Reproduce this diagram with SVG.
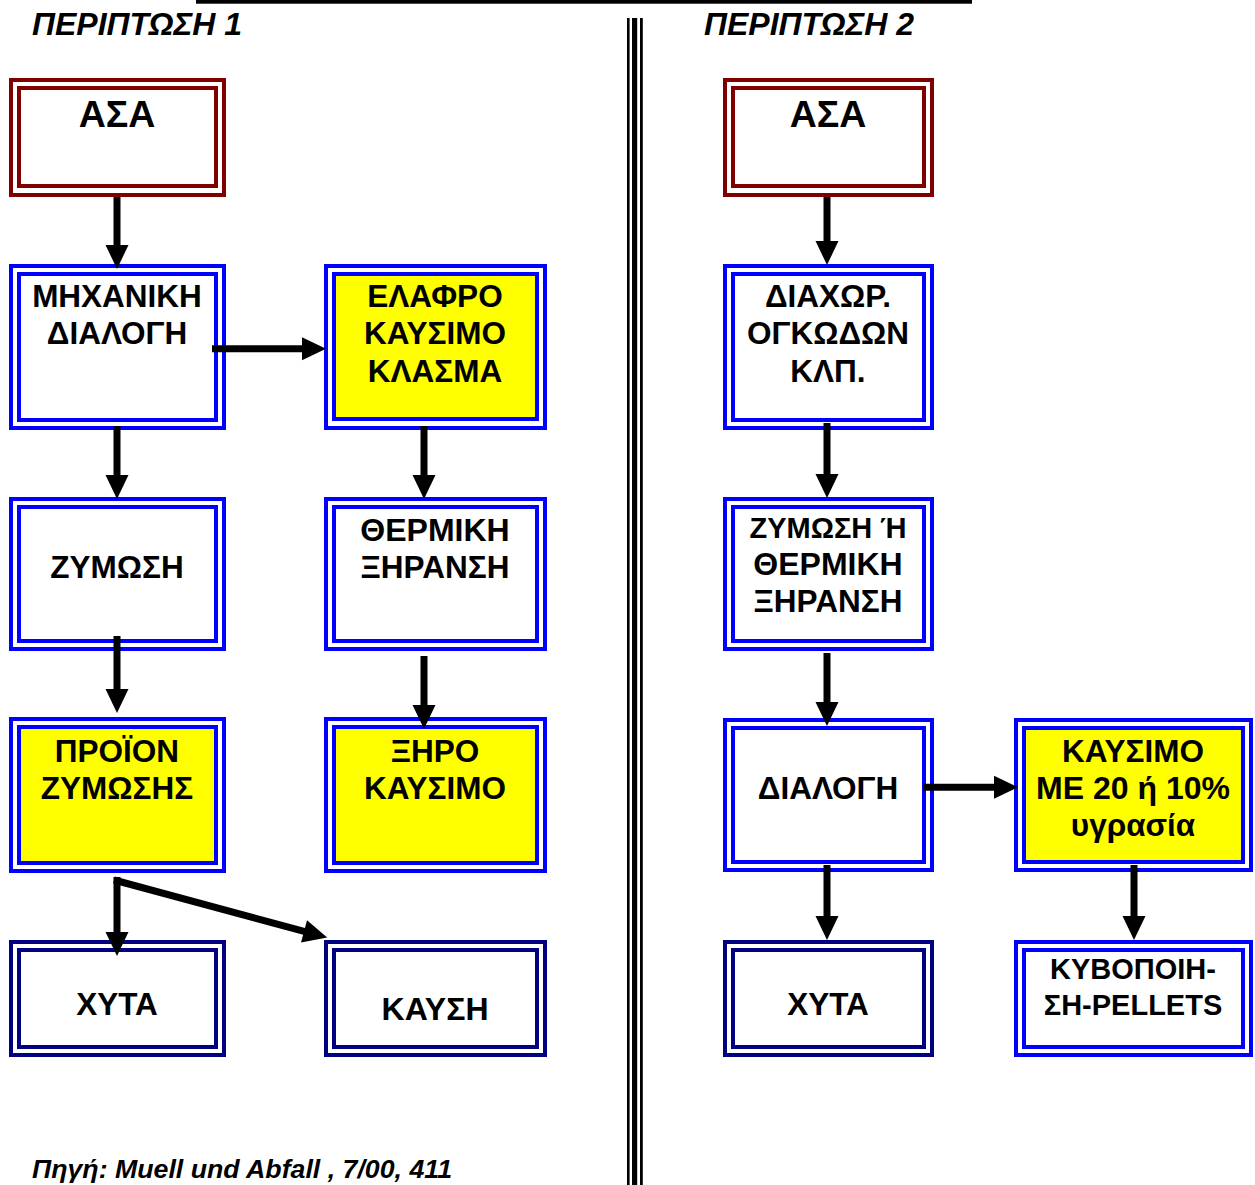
<svg xmlns="http://www.w3.org/2000/svg" width="1255" height="1185" viewBox="0 0 1255 1185">
<style>
.o{fill:none;stroke-width:4}
.i{fill:#fff;stroke-width:4}
.y{fill:#ffff00}
.r{stroke:#800000}
.b{stroke:#0000ff}
.n{stroke:#000080}
text{font-family:"Liberation Sans",Arial,sans-serif;font-weight:bold;fill:#000;text-anchor:middle;font-size:31.5px}
.t{font-style:italic;text-anchor:start;font-size:32px}
.f{font-size:26px}
.big{font-size:37.5px}
.s29{font-size:29px}
.s32{font-size:32px}
.c{stroke:#000;stroke-width:7;fill:none;marker-end:url(#ah)}
</style>
<defs>
<marker id="ah" markerUnits="userSpaceOnUse" markerWidth="25" markerHeight="23" refX="1" refY="11.5" orient="auto" overflow="visible">
<path d="M0,0 L24,11.5 L0,23 z" fill="#000"/>
</marker>
</defs>
<rect width="1255" height="1185" fill="#fff"/>
<g id="frame">
<rect x="196" y="0" width="776" height="3.7" fill="#000"/>
<rect x="627" y="18" width="2.6" height="1167" fill="#000"/>
<rect x="632" y="18" width="5.2" height="1167" fill="#000"/>
<rect x="640" y="18" width="2.8" height="1167" fill="#000"/>
<text class="t" x="32" y="35">ΠΕΡΙΠΤΩΣΗ 1</text>
<text class="t" x="704" y="35">ΠΕΡΙΠΤΩΣΗ 2</text>
<text class="t f" x="32" y="1178" textLength="420" lengthAdjust="spacingAndGlyphs">Πηγή: Muell und Abfall , 7/00, 411</text>
</g>
<g id="n-asa1">
<rect class="o r" x="11" y="80" width="213" height="115"/>
<rect class="i r" x="19" y="88" width="197" height="98"/>
<text class="big" x="117" y="127">ΑΣΑ</text>
</g>
<g id="n-mixaniki">
<rect class="o b" x="11" y="266" width="213" height="162"/>
<rect class="i b" x="19" y="274" width="197" height="146"/>
<text x="117" y="307">ΜΗΧΑΝΙΚΗ</text>
<text x="117" y="344">ΔΙΑΛΟΓΗ</text>
</g>
<g id="n-elafro">
<rect class="o b" x="326" y="266" width="219" height="162"/>
<rect class="i b y" x="334" y="274" width="203" height="145"/>
<text x="435" y="307">ΕΛΑΦΡΟ</text>
<text x="435" y="344">ΚΑΥΣΙΜΟ</text>
<text x="435" y="382">ΚΛΑΣΜΑ</text>
</g>
<g id="n-zymosi">
<rect class="o b" x="11" y="499" width="213" height="150"/>
<rect class="i b" x="19" y="507" width="197" height="134"/>
<text x="117" y="578">ΖΥΜΩΣΗ</text>
</g>
<g id="n-thermiki">
<rect class="o b" x="326" y="499" width="219" height="150"/>
<rect class="i b" x="334" y="507" width="203" height="134"/>
<text class="s32" x="435" y="541">ΘΕΡΜΙΚΗ</text>
<text x="435" y="578">ΞΗΡΑΝΣΗ</text>
</g>
<g id="n-proion">
<rect class="o b" x="11" y="719" width="213" height="152"/>
<rect class="i b y" x="19" y="727" width="197" height="136"/>
<text x="117" y="762">ΠΡΟΪΟΝ</text>
<text x="117" y="799">ΖΥΜΩΣΗΣ</text>
</g>
<g id="n-xiro">
<rect class="o b" x="326" y="719" width="219" height="152"/>
<rect class="i b y" x="334" y="727" width="203" height="136"/>
<text x="435" y="762">ΞΗΡΟ</text>
<text x="435" y="799">ΚΑΥΣΙΜΟ</text>
</g>
<g id="n-xyta1">
<rect class="o n" x="11" y="942" width="213" height="113"/>
<rect class="i n" x="19" y="950" width="197" height="97"/>
<text x="117" y="1015">ΧΥΤΑ</text>
</g>
<g id="n-kaysi">
<rect class="o n" x="326" y="942" width="219" height="113"/>
<rect class="i n" x="334" y="950" width="203" height="97"/>
<text class="s32" x="435" y="1020">ΚΑΥΣΗ</text>
</g>
<g id="n-asa2">
<rect class="o r" x="725" y="80" width="207" height="115"/>
<rect class="i r" x="733" y="88" width="191" height="98"/>
<text class="big" x="828" y="127">ΑΣΑ</text>
</g>
<g id="n-diaxor">
<rect class="o b" x="725" y="266" width="207" height="162"/>
<rect class="i b" x="733" y="274" width="191" height="146"/>
<text x="828" y="307">ΔΙΑΧΩΡ.</text>
<text x="828" y="344">ΟΓΚΩΔΩΝ</text>
<text x="828" y="382">ΚΛΠ.</text>
</g>
<g id="n-zymosi-i">
<rect class="o b" x="725" y="499" width="207" height="150"/>
<rect class="i b" x="733" y="507" width="191" height="134"/>
<text class="s29" x="828" y="538">ΖΥΜΩΣΗ Ή</text>
<text class="s32" x="828" y="575">ΘΕΡΜΙΚΗ</text>
<text x="828" y="612">ΞΗΡΑΝΣΗ</text>
</g>
<g id="n-dialogi">
<rect class="o b" x="725" y="720" width="207" height="150"/>
<rect class="i b" x="733" y="728" width="191" height="134"/>
<text x="828" y="799">ΔΙΑΛΟΓΗ</text>
</g>
<g id="n-kaysimo">
<rect class="o b" x="1016" y="720" width="235" height="150"/>
<rect class="i b y" x="1024" y="728" width="219" height="134"/>
<text x="1133" y="762">ΚΑΥΣΙΜΟ</text>
<text class="s32" x="1133" y="799">ΜΕ 20 ή 10%</text>
<text x="1133" y="836">υγρασία</text>
</g>
<g id="n-xyta2">
<rect class="o n" x="725" y="942" width="207" height="113"/>
<rect class="i n" x="733" y="950" width="191" height="97"/>
<text x="828" y="1015">ΧΥΤΑ</text>
</g>
<g id="n-kyvopoiisi">
<rect class="o b" x="1016" y="942" width="235" height="113"/>
<rect class="i b" x="1024" y="950" width="219" height="97"/>
<text class="s29" x="1133" y="979">ΚΥΒΟΠΟΙΗ-</text>
<text class="s29" x="1133" y="1015">ΣΗ-PELLETS</text>
</g>
<g id="connectors">
<path class="c" d="M117,197 V246"/>
<path class="c" d="M827,197 V242"/>
<path class="c" d="M212,348.7 H303"/>
<path class="c" d="M117,426 V476"/>
<path class="c" d="M424,426 V476"/>
<path class="c" d="M117,636 V690"/>
<path class="c" d="M424,656 V706"/>
<path class="c" d="M827,423 V475"/>
<path class="c" d="M827,653 V703"/>
<path class="c" d="M923,787.3 H995"/>
<path class="c" d="M827,865 V917"/>
<path class="c" d="M1134,865 V917"/>
<path class="c" d="M117,877 V933"/>
<path class="c" d="M114,880 L305,931.6"/>
</g>
</svg>
